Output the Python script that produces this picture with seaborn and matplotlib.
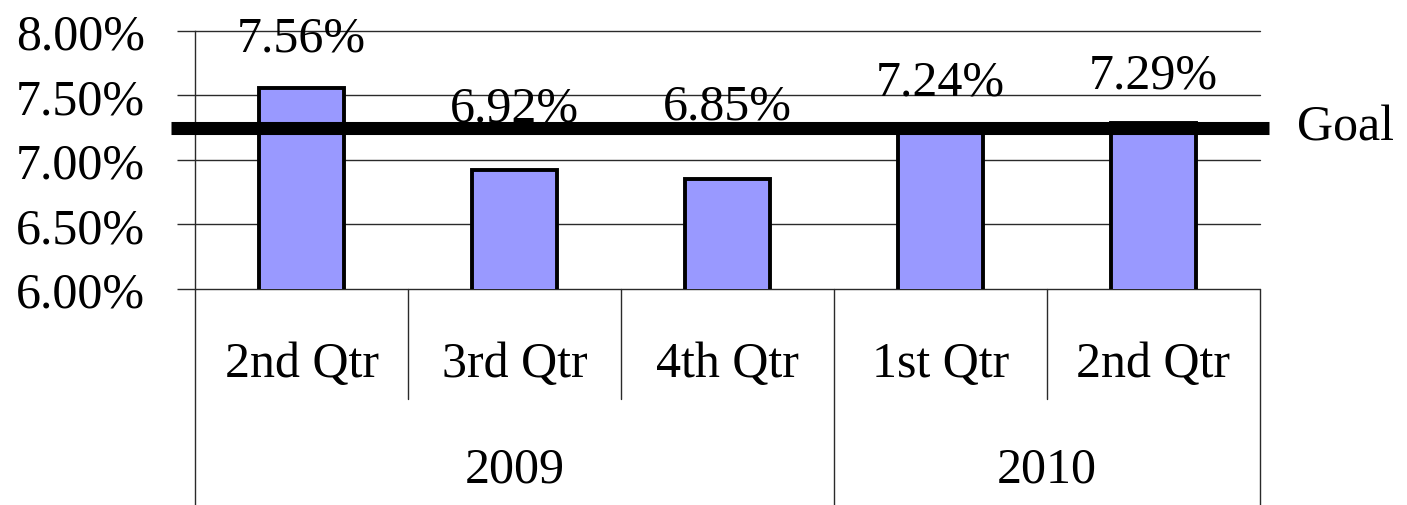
import pandas as pd
import seaborn as sns
import matplotlib.pyplot as plt
import matplotlib.transforms as mtransforms

# datos del grafico
years = ['2009', '2009', '2009', '2010', '2010']
quarters = ['2nd Qtr', '3rd Qtr', '4th Qtr', '1st Qtr', '2nd Qtr']
rates = [7.56, 6.92, 6.85, 7.24, 7.29]
goal = 7.25
y_ticks = [6.0, 6.5, 7.0, 7.5, 8.0]

# separacion (en puntos) entre el tope de cada barra y su etiqueta
label_lift = [27, 36, 44, 25, 25]

df = pd.DataFrame({'year': years, 'quarter': quarters, 'rate': rates})
df['period'] = df['year'] + ' ' + df['quarter']

sns.set_style('white')
plt.rcParams['font.family'] = ['Liberation Serif', 'DejaVu Serif']
plt.rcParams['text.color'] = 'black'
fsize = 36
line_col = '#2a2a2a'

fig = plt.figure(figsize=(14.07, 5.06), dpi=100)
ax = fig.add_axes([0.1386, 0.4269, 0.7569, 0.5099])

sns.barplot(data=df, x='period', y='rate', order=df['period'], color='#9999ff',
            saturation=1, width=0.4, edgecolor='black', linewidth=2.8,
            zorder=3, ax=ax)

ax.set_xlim(-0.5, len(rates) - 0.5)
ax.set_ylim(y_ticks[0], y_ticks[-1])
ax.set_yticks(y_ticks)
ax.set_yticklabels([f'{t:.2f}%' for t in y_ticks])
ax.set_xlabel('')
ax.set_ylabel('')
ax.set_xticks([])

ax.yaxis.grid(True, color=line_col, linewidth=1.0)
for gl in ax.get_ygridlines():
    gl.set_clip_on(False)
ax.set_axisbelow(True)
ax.tick_params(axis='y', left=True, length=13, width=1.0, color=line_col,
               pad=23, labelsize=fsize, labelcolor='black', direction='out')
for s in ['top', 'right', 'bottom']:
    ax.spines[s].set_visible(False)
ax.spines['left'].set_color(line_col)
ax.spines['left'].set_linewidth(1.0)

# linea de meta
ax.axhline(goal, xmin=-0.0225, xmax=1.0085, color='black', linewidth=9.4,
           solid_capstyle='butt', clip_on=False, zorder=4)
tr_goal = mtransforms.blended_transform_factory(ax.transAxes, ax.transData)
ax.text(1.035, goal, 'Goal', transform=tr_goal, ha='left', va='center',
        fontsize=fsize, color='black')

# etiquetas de valores
for bar, v, lift in zip(ax.patches, rates, label_lift):
    cx = bar.get_x() + bar.get_width() / 2
    ax.annotate(f'{v:.2f}%', (cx, v), xytext=(0, lift), textcoords='offset points',
                ha='center', va='baseline', fontsize=fsize, color='black',
                zorder=5, annotation_clip=False)

# eje de categorias con dos niveles
tr = mtransforms.blended_transform_factory(ax.transData, ax.transAxes)
for i, q in enumerate(quarters):
    ax.text(i, -0.29, q, transform=tr, ha='center', va='center', fontsize=fsize,
            color='black')

year_pos = df.reset_index().groupby('year')['index'].mean()
for yr, pos in year_pos.items():
    ax.text(pos, -0.70, yr, transform=tr, ha='center', va='center', fontsize=fsize,
            color='black')

for i in range(len(rates) + 1):
    full = i == 0 or i == len(rates) or years[i] != years[i - 1]
    bottom = -0.84 if full else -0.426
    ax.plot([i - 0.5, i - 0.5], [0, bottom], transform=tr, color=line_col,
            linewidth=1.0, clip_on=False)

fig.savefig('out.png', dpi=100)
